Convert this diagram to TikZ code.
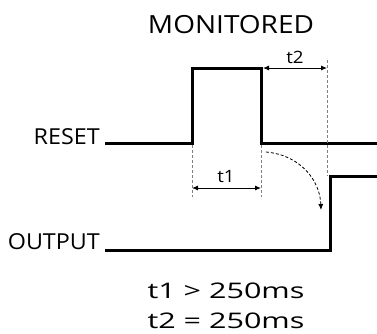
\documentclass[tikz,border=0pt]{standalone}
\usepackage{fontspec}
\setmainfont{Open Sans}
\usetikzlibrary{arrows.meta}
\newcommand{\wide}[2]{\scalebox{#1}[1]{#2}}

\begin{document}
\begin{tikzpicture}
    [x=1bp, y=-1bp,
    signal/.style={line width=3bp, line join=miter},
    guide/.style={gray, line width=0.8bp, dash pattern=on 3bp off 2bp},
    dim/.style={{Latex[length=6bp,width=5bp]}-{Latex[length=6bp,width=5bp]}, line width=0.9bp},
    lbl/.style={inner sep=0pt, font=\fontsize{22bp}{24bp}\selectfont},
    small/.style={inner sep=0pt, font=\fontsize{17bp}{20bp}\selectfont},
    cond/.style={inner sep=0pt, text depth=0pt, font=\fontsize{21.5bp}{24bp}\selectfont}]
    \useasboundingbox (0,0) rectangle (377,334);

    %% Titles and signal names
    \node[lbl, anchor=base, font=\fontsize{25bp}{28bp}\selectfont] (title) at (231,33) {\wide{1.12}{MONITORED}};
    \node[lbl, anchor=base east] (reset) at (100,144) {\wide{1.06}{RESET}};
    \node[lbl, anchor=base east] (output) at (100,249) {\wide{1.06}{OUTPUT}};

    %% RESET signal
    \coordinate (R0) at (105,143);
    \coordinate (R1) at (192,143);
    \coordinate (R2) at (192,68);
    \coordinate (R3) at (261,68);
    \coordinate (R4) at (261,143);
    \coordinate (R5) at (377,143);
    \draw[signal] (R0) -- (R1) -- (R2) -- (R3) -- (R4) -- (R5);

    %% OUTPUT signal
    \coordinate (O0) at (105,250);
    \coordinate (O1) at (330,250);
    \coordinate (O2) at (330,176);
    \coordinate (O3) at (377,176);
    \draw[signal] (O0) -- (O1) -- (O2) -- (O3);

    %% t1
    \coordinate (G1a) at (192,145);
    \coordinate (G1b) at (192,197);
    \coordinate (G2a) at (261,145);
    \coordinate (G2b) at (261,197);
    \draw[guide] (G1a) -- (G1b);
    \draw[guide] (G2a) -- (G2b);
    \coordinate (A1) at (192,188);
    \coordinate (B1) at (261,188);
    \draw[dim] (A1) -- (B1);
    \node[small, anchor=base] (t1) at (226,182) {\wide{1.1}{t1}};

    %% t2
    \coordinate (G3a) at (327,60);
    \coordinate (G3b) at (327,176);
    \draw[guide] (G3a) -- (G3b);
    \coordinate (A2) at (263,68);
    \coordinate (B2) at (327,68);
    \draw[dim] (A2) -- (B2);
    \node[small, anchor=base] (t2) at (295,63) {\wide{1.1}{t2}};

    %% delay arrow
    \coordinate (C0) at (266,152);
    \coordinate (C1) at (321,210);
    \draw[guide, black, -{Latex[length=6bp,width=5bp]}] (C0) .. controls (300,155) and (320,180) .. (C1);

    %% conditions
    \node[cond, anchor=base] (cond1) at (226,298) {\wide{1.42}{t1 > 250ms}};
    \node[cond, anchor=base] (cond2) at (226,328) {\wide{1.42}{t2 = 250ms}};
\end{tikzpicture}
\end{document}
